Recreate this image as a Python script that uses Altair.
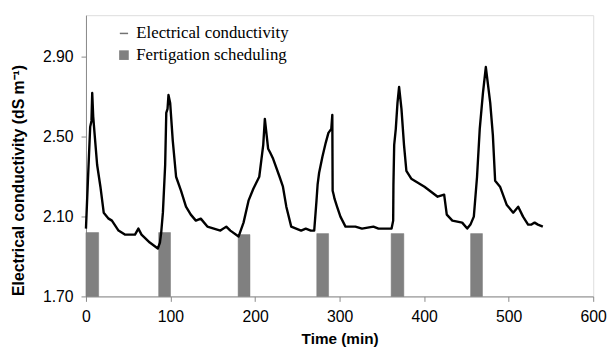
import altair as alt
import pandas as pd

# Electrical conductivity trace (time in min, EC in dS m-1)
ec_time = [0, 2.3, 5.0, 6.5, 7.4, 8.6, 10.5, 13.2, 17.1, 21, 26.8, 30.7, 38.5, 46, 58, 62, 65.7,
           75.5, 85, 87.5, 89, 91, 93.7, 95, 96.5, 97.6, 99.6, 102.7, 106.6, 112.4, 118.3, 124,
           130, 135.8, 143.6, 159, 166, 170.8, 180.5, 186.4, 192.3, 198, 205, 209.7, 211.6,
           215.5, 218, 221.4, 229, 233, 237, 242.8, 248.6, 254.5, 260, 266, 270, 272.7, 274,
           275.8, 279.7, 283.6, 286.8, 290.2, 291.4, 291.8, 293, 294, 297, 301, 307, 318.7,
           326.5, 340, 346, 355, 361.5, 363.4, 363.7, 364.6, 366.5, 368.5, 370.4, 373.2, 376.2,
           379, 384.8, 400.4, 416, 423.7, 426.8, 433.4, 445, 451, 454.8, 458.8, 462.6, 465.8,
           469.6, 473, 478.2, 481.3, 484, 489.8, 497.6, 505.4, 511.3, 517, 523, 527, 530.7,
           534.6, 540.4]
ec_value = [2.04, 2.28, 2.55, 2.58, 2.72, 2.60, 2.50, 2.36, 2.25, 2.12, 2.09, 2.08, 2.03, 2.01,
            2.01, 2.04, 2.01, 1.97, 1.94, 1.97, 2.02, 2.12, 2.36, 2.62, 2.64, 2.71, 2.67, 2.48,
            2.30, 2.23, 2.15, 2.11, 2.08, 2.09, 2.05, 2.03, 2.05, 2.03, 2.00, 2.07, 2.18, 2.24,
            2.30, 2.46, 2.59, 2.44, 2.42, 2.39, 2.30, 2.25, 2.15, 2.05, 2.04, 2.03, 2.04, 2.03,
            2.03, 2.18, 2.26, 2.32, 2.40, 2.47, 2.52, 2.54, 2.61, 2.23, 2.21, 2.19, 2.15, 2.10,
            2.05, 2.05, 2.04, 2.05, 2.04, 2.04, 2.04, 2.08, 2.26, 2.46, 2.54, 2.67, 2.75, 2.64,
            2.46, 2.33, 2.29, 2.25, 2.20, 2.21, 2.11, 2.08, 2.07, 2.04, 2.06, 2.10, 2.30, 2.54,
            2.72, 2.85, 2.67, 2.51, 2.28, 2.25, 2.16, 2.12, 2.15, 2.10, 2.06, 2.06, 2.07, 2.06,
            2.05]

# Fertigation events
fert_start = [0, 86, 180, 273, 361, 455]
fert_end = [15, 100, 194, 287, 376, 469]
fert_top = [2.02, 2.02, 2.01, 2.015, 2.015, 2.015]

x_ticks = [0, 100, 200, 300, 400, 500, 600]
y_ticks = [1.70, 2.10, 2.50, 2.90]

ec_df = pd.DataFrame({"t": ec_time, "v": ec_value, "s": "Electrical conductivity"})
fert_df = pd.DataFrame({"t0": fert_start, "t1": fert_end, "top": fert_top,
                        "base": [1.70] * len(fert_start), "s": "Fertigation scheduling"})

x_scale = alt.Scale(domain=[0, 600], nice=False, zero=False)
y_scale = alt.Scale(domain=[1.70, 3.11], nice=False, zero=False)

x_axis = alt.Axis(values=x_ticks, title="Time (min)", grid=False, format="d",
                  labelFontSize=16, titleFontSize=15.5, titleFontWeight="bold",
                  labelFont="Liberation Sans", titleFont="Liberation Sans",
                  domainColor="#888888", tickColor="#888888", tickSize=5,
                  labelPadding=7, titlePadding=8, labelColor="black", titleColor="black",
                  labelFlush=False, labelBound=False)
y_axis = alt.Axis(values=y_ticks, title="Electrical conductivity (dS m⁻¹)", grid=False,
                  format=".2f", labelFontSize=16, titleFontSize=16, titleFontWeight="bold",
                  labelFont="Liberation Sans", titleFont="Liberation Sans",
                  domainColor="#888888", tickColor="#888888", tickSize=5,
                  labelPadding=8, titleY=167, titleX=-60, titleBaseline="bottom",
                  labelColor="black", titleColor="black", labelFlush=False,
                  labelBound=False)

legend_common = dict(orient="none", title=None, labelFont="Liberation Serif",
                     labelFontSize=17, labelColor="black", padding=0, symbolOffset=0)

bars = alt.Chart(fert_df).mark_rect(stroke="#777777", strokeWidth=0.5).encode(
    x=alt.X("t0:Q", scale=x_scale, axis=x_axis),
    x2="t1:Q",
    y=alt.Y("base:Q", scale=y_scale, axis=y_axis),
    y2="top:Q",
    fill=alt.Fill("s:N", scale=alt.Scale(range=["#808080"]),
                  legend=alt.Legend(legendX=30, legendY=32, symbolType="square",
                                    symbolSize=95, symbolStrokeWidth=0,
                                    **legend_common)),
)

line = alt.Chart(ec_df).mark_line(strokeWidth=2.4, strokeJoin="round").encode(
    x=alt.X("t:Q", scale=x_scale),
    y=alt.Y("v:Q", scale=y_scale),
    stroke=alt.Stroke("s:N", scale=alt.Scale(range=["black"]),
                      legend=alt.Legend(legendX=30, legendY=10, symbolType="stroke",
                                        symbolSize=70, symbolStrokeWidth=1.5,
                                        symbolOpacity=0.55, **legend_common)),
)

chart = alt.layer(bars, line).resolve_scale(fill="independent", stroke="independent").properties(
    width=514, height=285,
    autosize=alt.AutoSizeParams(type="none"),
    padding={"left": 79, "top": 5, "right": 15, "bottom": 50},
).configure_view(stroke=None).configure(background="white")

chart.save("out.html", embed_options={"renderer": "svg", "actions": False})
